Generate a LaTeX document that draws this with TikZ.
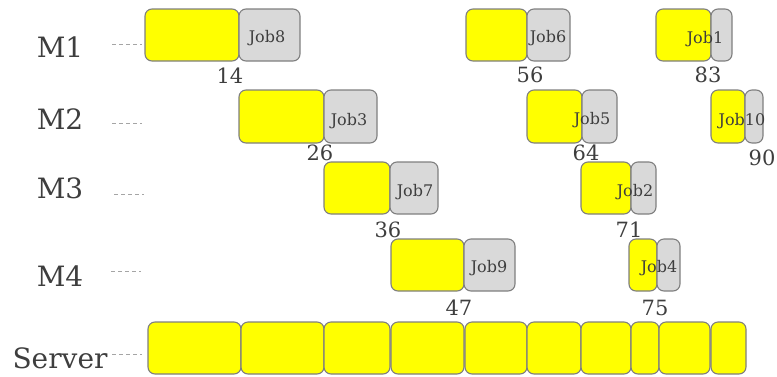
\documentclass[tikz,border=0pt]{standalone}
\usepackage{fontspec}
\setmainfont{DejaVu Serif}
\definecolor{txt}{RGB}{62,62,62}
\definecolor{edge}{RGB}{127,127,127}
\definecolor{jobgray}{RGB}{217,217,217}
\definecolor{dashc}{RGB}{165,165,165}
\definecolor{runyel}{RGB}{255,255,0}
\begin{document}
\begin{tikzpicture}[x=1pt,y=-1pt,
 cell/.style={draw=edge, line width=1.1pt, rounded corners=7pt, inner sep=0pt, outer sep=0pt, anchor=north west},
 run/.style={cell, fill=runyel, minimum height=52pt},
 wait/.style={cell, fill=jobgray, minimum height=52pt},
 joblbl/.style={text=txt, font=\fontsize{16}{16}\selectfont, inner sep=0pt, anchor=base},
 timelbl/.style={text=txt, font=\fontsize{21}{21}\selectfont, inner sep=0pt, anchor=base},
 rowlbl/.style={text=txt, font=\fontsize{28}{28}\selectfont, inner sep=0pt, anchor=base},
 guide/.style={draw=dashc, line width=0.8pt, dash pattern=on 4pt off 3pt},
]
\useasboundingbox (0,0) rectangle (777,376);
% row labels
\node[rowlbl] (m1) at (60,57) {M1};
\node[rowlbl] (m2) at (60,129) {M2};
\node[rowlbl] (m3) at (60,198) {M3};
\node[rowlbl] (m4) at (60,286) {M4};
\node[rowlbl] (srv) at (60,368) {Server};
% guides
\coordinate (g1a) at (112,44); \coordinate (g1b) at (142,44);
\coordinate (g2a) at (112,123); \coordinate (g2b) at (142,123);
\coordinate (g3a) at (114,194); \coordinate (g3b) at (144,194);
\coordinate (g4a) at (111,271); \coordinate (g4b) at (141,271);
\coordinate (g5a) at (112,354); \coordinate (g5b) at (142,354);
\draw[guide] (g1a) -- (g1b);
\draw[guide] (g2a) -- (g2b);
\draw[guide] (g3a) -- (g3b);
\draw[guide] (g4a) -- (g4b);
\draw[guide] (g5a) -- (g5b);
% M1
\node[run, minimum width=94pt] (y8) at (145,9) {};
\node[wait, minimum width=61pt] (w8) at (239,9) {};
\node[run, minimum width=61pt] (y6) at (466,9) {};
\node[wait, minimum width=43pt] (w6) at (527,9) {};
\node[run, minimum width=55pt] (y1) at (656,9) {};
\node[wait, minimum width=21pt] (w1) at (711,9) {};
% M2
\node[run, minimum width=85pt, minimum height=53pt] (y3) at (239,90) {};
\node[wait, minimum width=53pt, minimum height=53pt] (w3) at (324,90) {};
\node[run, minimum width=55pt, minimum height=53pt] (y5) at (527,90) {};
\node[wait, minimum width=35pt, minimum height=53pt] (w5) at (582,90) {};
\node[run, minimum width=34pt, minimum height=53pt] (y10) at (711,90) {};
\node[wait, minimum width=18pt, minimum height=53pt] (w10) at (745,90) {};
% M3
\node[run, minimum width=66pt] (y7) at (324,162) {};
\node[wait, minimum width=48pt] (w7) at (390,162) {};
\node[run, minimum width=50pt] (y2) at (581,162) {};
\node[wait, minimum width=25pt] (w2) at (631,162) {};
% M4
\node[run, minimum width=73pt] (y9) at (391,239) {};
\node[wait, minimum width=51pt] (w9) at (464,239) {};
\node[run, minimum width=28pt] (y4) at (629,239) {};
\node[wait, minimum width=23pt] (w4) at (657,239) {};
% Server
\node[run, minimum width=93pt] (s1) at (148,322) {};
\node[run, minimum width=83pt] (s2) at (241,322) {};
\node[run, minimum width=66pt] (s3) at (324,322) {};
\node[run, minimum width=73pt] (s4) at (391,322) {};
\node[run, minimum width=62pt] (s5) at (465,322) {};
\node[run, minimum width=54pt] (s6) at (527,322) {};
\node[run, minimum width=50pt] (s7) at (581,322) {};
\node[run, minimum width=28pt] (s8) at (631,322) {};
\node[run, minimum width=51pt] (s9) at (659,322) {};
\node[run, minimum width=35pt] (s10) at (711,322) {};
% job labels
\node[joblbl] (l8) at (267,42) {Job8};
\node[joblbl] (l6) at (548,42) {Job6};
\node[joblbl] (l1) at (705,43) {Job1};
\node[joblbl] (l3) at (349,125) {Job3};
\node[joblbl] (l5) at (592,124) {Job5};
\node[joblbl] (l10) at (742,125) {Job10};
\node[joblbl] (l7) at (415,196) {Job7};
\node[joblbl] (l2) at (635,196) {Job2};
\node[joblbl] (l9) at (489,272) {Job9};
\node[joblbl] (l4) at (659,272) {Job4};
% times
\node[timelbl] (t14) at (230,83) {14};
\node[timelbl] (t56) at (530,82) {56};
\node[timelbl] (t83) at (708,82) {83};
\node[timelbl] (t26) at (320,160) {26};
\node[timelbl] (t64) at (586,160) {64};
\node[timelbl] (t90) at (762,165) {90};
\node[timelbl] (t36) at (388,237) {36};
\node[timelbl] (t71) at (629,237) {71};
\node[timelbl] (t47) at (459,315) {47};
\node[timelbl] (t75) at (655,315) {75};
\end{tikzpicture}
\end{document}
